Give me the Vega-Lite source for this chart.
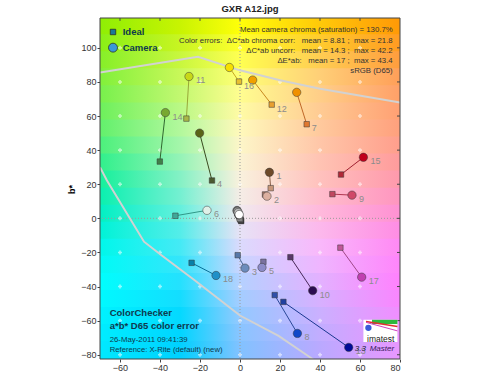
{
  "$schema": "https://vega.github.io/schema/vega-lite/v6.json",
  "width": 300,
  "height": 341,
  "autosize": "none",
  "padding": {"left": 100, "top": 18, "right": 100, "bottom": 16},
  "background": "white",
  "title": {"text": "GXR A12.jpg", "fontSize": 9.5, "fontWeight": "bold", "offset": 4, "color": "#222", "anchor": "middle", "font": "Liberation Sans"},
  "config": {
    "font": "Liberation Sans",
    "view": {"stroke": null},
    "axis": {"labelFont": "Liberation Sans", "labelFontSize": 9, "labelColor": "#333", "tickColor": "#444", "tickSize": 3, "domain": false, "grid": false, "labelPadding": 1, "titleFont": "Liberation Sans", "labelOverlap": false, "labelSeparation": -40},
    "axisY": {"labelOverlap": false, "labelSeparation": -40},
    "axisLeft": {"labelOverlap": false, "labelSeparation": -40}
  },
  "data": {"values": [{}]},
  "datasets": {
    "patches": [
      {"n": 1, "ia": 15.35, "ib": 17.7, "ca": 14.7, "cb": 27, "at": "c"},
      {"n": 2, "ia": 12.5, "ib": 14, "ca": 13.5, "cb": 13, "at": "c"},
      {"n": 3, "ia": -1.15, "ib": -21.6, "ca": 2.5, "cb": -29.2, "at": "c"},
      {"n": 4, "ia": -14, "ib": 22.2, "ca": -20.2, "cb": 50, "at": "i"},
      {"n": 5, "ia": 11.7, "ib": -25.5, "ca": 11, "cb": -28.8, "at": "c"},
      {"n": 6, "ia": -32.3, "ib": 1.5, "ca": -16.5, "cb": 4.7, "at": "c"},
      {"n": 7, "ia": 33.35, "ib": 55.2, "ca": 28.35, "cb": 73.9, "at": "i"},
      {"n": 8, "ia": 17.35, "ib": -45, "ca": 28.7, "cb": -67.5, "at": "c"},
      {"n": 9, "ia": 46.2, "ib": 14.2, "ca": 56, "cb": 13.6, "at": "c"},
      {"n": 10, "ia": 25.2, "ib": -22.8, "ca": 36.35, "cb": -42.4, "at": "c"},
      {"n": 11, "ia": -26.8, "ib": 58.5, "ca": -25.5, "cb": 83.2, "at": "c"},
      {"n": 12, "ia": 15.85, "ib": 66.7, "ca": 6.35, "cb": 81.1, "at": "i"},
      {"n": 13, "ia": 21.7, "ib": -49, "ca": 54.35, "cb": -75.7, "at": "c"},
      {"n": 14, "ia": -40.1, "ib": 33.3, "ca": -37.3, "cb": 62, "at": "c"},
      {"n": 15, "ia": 50.5, "ib": 25.7, "ca": 61.7, "cb": 35.8, "at": "c"},
      {"n": 16, "ia": -0.5, "ib": 80.2, "ca": -5.3, "cb": 88.5, "at": "i"},
      {"n": 17, "ia": 50.2, "ib": -17.2, "ca": 60.85, "cb": -34.5, "at": "c"},
      {"n": 18, "ia": -24.2, "ib": -26.1, "ca": -12, "cb": -33.5, "at": "c"},
      {"n": 24, "ia": 0.6, "ib": -1.6, "ca": -0.6, "cb": 2.0, "at": "n"},
      {"n": 23, "ia": 0.4, "ib": -1.1, "ca": -0.8, "cb": 2.8, "at": "n"},
      {"n": 22, "ia": 0.2, "ib": -0.6, "ca": -1.5, "cb": 4.6, "at": "n"},
      {"n": 21, "ia": 0, "ib": -0.3, "ca": -1.3, "cb": 4.2, "at": "n"},
      {"n": 20, "ia": -0.2, "ib": 0.2, "ca": -0.9, "cb": 3.4, "at": "n"},
      {"n": 19, "ia": -0.4, "ib": 1, "ca": -0.4, "cb": 2.2, "at": "n"}
    ],
    "gamut": [
      {"seg": "u", "o": 1, "a": -70, "b": 85.6},
      {"seg": "u", "o": 2, "a": -21, "b": 94.7},
      {"seg": "u", "o": 3, "a": 0, "b": 86.8},
      {"seg": "u", "o": 4, "a": 20, "b": 81},
      {"seg": "u", "o": 5, "a": 40, "b": 76},
      {"seg": "u", "o": 6, "a": 80, "b": 68},
      {"seg": "l", "o": 1, "a": -70, "b": 30},
      {"seg": "l", "o": 2, "a": -66.6, "b": 22.4},
      {"seg": "l", "o": 3, "a": -48, "b": -13.7},
      {"seg": "l", "o": 4, "a": -39.6, "b": -21.4},
      {"seg": "l", "o": 5, "a": -23, "b": -36},
      {"seg": "l", "o": 6, "a": 0, "b": -57},
      {"seg": "l", "o": 7, "a": 19.3, "b": -69},
      {"seg": "l", "o": 8, "a": 35, "b": -81.5},
      {"seg": "l", "o": 9, "a": 38, "b": -84}
    ],
    "grid": [
      {"a": -60, "bs": [-80, -60, -40, -20, 0, 20, 40, 60, 80, 100]},
      {"a": -40, "bs": [-80, -60, -40, -20, 0, 20, 40, 60, 80, 100]},
      {"a": -20, "bs": [-80, -60, -40, -20, 0, 20, 40, 60, 80, 100]},
      {"a": 0, "bs": [-80, -60, -40, -20, 0, 20, 40, 60, 80, 100]},
      {"a": 20, "bs": [-80, -60, -40, -20, 0, 20, 40, 60, 80, 100]},
      {"a": 40, "bs": [-80, -60, -40, -20, 0, 20, 40, 60, 80, 100]},
      {"a": 60, "bs": [-80, -60, -40, -20, 0, 20, 40, 60, 80, 100]}
    ]
  },
  "layer": [
    {
      "encoding": {
        "x": {"datum": -70, "type": "quantitative"},
        "x2": {"datum": 80}
      },
      "layer": [
        {"mark": {"type": "rect", "color": {"gradient": "linear", "x1": 0, "y1": 0, "x2": 1, "y2": 0, "stops": [{"offset": 0, "color": "#8fee05"}, {"offset": 0.2667, "color": "#c8f402"}, {"offset": 0.4667, "color": "#ffff09"}, {"offset": 0.7333, "color": "#ffc909"}, {"offset": 1, "color": "#ff9907"}]}}, "encoding": {"y": {"datum": 107.5, "type": "quantitative"}, "y2": {"datum": 117.5}}},
        {"mark": {"type": "rect", "color": {"gradient": "linear", "x1": 0, "y1": 0, "x2": 1, "y2": 0, "stops": [{"offset": 0, "color": "#8aef17"}, {"offset": 0.2667, "color": "#c8f522"}, {"offset": 0.4667, "color": "#ffff2e"}, {"offset": 0.7333, "color": "#ffcb2e"}, {"offset": 1, "color": "#ff9b22"}]}}, "encoding": {"y": {"datum": 97.5}, "y2": {"datum": 108}}},
        {"mark": {"type": "rect", "color": {"gradient": "linear", "x1": 0, "y1": 0, "x2": 1, "y2": 0, "stops": [{"offset": 0, "color": "#86ef29"}, {"offset": 0.2667, "color": "#c8f73e"}, {"offset": 0.4667, "color": "#ffff52"}, {"offset": 0.7333, "color": "#ffcd52"}, {"offset": 1, "color": "#ff9d3e"}]}}, "encoding": {"y": {"datum": 87.5}, "y2": {"datum": 98}}},
        {"mark": {"type": "rect", "color": {"gradient": "linear", "x1": 0, "y1": 0, "x2": 1, "y2": 0, "stops": [{"offset": 0, "color": "#81f03b"}, {"offset": 0.2667, "color": "#c8f859"}, {"offset": 0.4667, "color": "#ffff77"}, {"offset": 0.7333, "color": "#ffcf77"}, {"offset": 1, "color": "#ff9f59"}]}}, "encoding": {"y": {"datum": 77.5}, "y2": {"datum": 88}}},
        {"mark": {"type": "rect", "color": {"gradient": "linear", "x1": 0, "y1": 0, "x2": 1, "y2": 0, "stops": [{"offset": 0, "color": "#78f04c"}, {"offset": 0.2667, "color": "#c2f870"}, {"offset": 0.4667, "color": "#fffd90"}, {"offset": 0.7333, "color": "#ffce88"}, {"offset": 1, "color": "#ffa068"}]}}, "encoding": {"y": {"datum": 67.5}, "y2": {"datum": 78}}},
        {"mark": {"type": "rect", "color": {"gradient": "linear", "x1": 0, "y1": 0, "x2": 1, "y2": 0, "stops": [{"offset": 0, "color": "#6df05c"}, {"offset": 0.2667, "color": "#baf885"}, {"offset": 0.4667, "color": "#fffba5"}, {"offset": 0.7333, "color": "#ffcb93"}, {"offset": 1, "color": "#ffa073"}]}}, "encoding": {"y": {"datum": 57.5}, "y2": {"datum": 68}}},
        {"mark": {"type": "rect", "color": {"gradient": "linear", "x1": 0, "y1": 0, "x2": 1, "y2": 0, "stops": [{"offset": 0, "color": "#63f06c"}, {"offset": 0.2667, "color": "#b2f89c"}, {"offset": 0.4667, "color": "#fff9bb"}, {"offset": 0.7333, "color": "#ffc99d"}, {"offset": 1, "color": "#ffa07d"}]}}, "encoding": {"y": {"datum": 47.5}, "y2": {"datum": 58}}},
        {"mark": {"type": "rect", "color": {"gradient": "linear", "x1": 0, "y1": 0, "x2": 1, "y2": 0, "stops": [{"offset": 0, "color": "#4cf07c"}, {"offset": 0.2667, "color": "#a4f6aa"}, {"offset": 0.4667, "color": "#fdf6c8"}, {"offset": 0.7333, "color": "#ffc6a8"}, {"offset": 1, "color": "#ff9e8c"}]}}, "encoding": {"y": {"datum": 37.5}, "y2": {"datum": 48}}},
        {"mark": {"type": "rect", "color": {"gradient": "linear", "x1": 0, "y1": 0, "x2": 1, "y2": 0, "stops": [{"offset": 0, "color": "#31f08c"}, {"offset": 0.2667, "color": "#94f3b7"}, {"offset": 0.4667, "color": "#fbf3d3"}, {"offset": 0.7333, "color": "#ffc3b3"}, {"offset": 1, "color": "#ff9b9c"}]}}, "encoding": {"y": {"datum": 27.5}, "y2": {"datum": 38}}},
        {"mark": {"type": "rect", "color": {"gradient": "linear", "x1": 0, "y1": 0, "x2": 1, "y2": 0, "stops": [{"offset": 0, "color": "#17f09c"}, {"offset": 0.2667, "color": "#84f1c5"}, {"offset": 0.4667, "color": "#f9f1dd"}, {"offset": 0.7333, "color": "#ffc1bd"}, {"offset": 1, "color": "#ff99ac"}]}}, "encoding": {"y": {"datum": 17.5}, "y2": {"datum": 28}}},
        {"mark": {"type": "rect", "color": {"gradient": "linear", "x1": 0, "y1": 0, "x2": 1, "y2": 0, "stops": [{"offset": 0, "color": "#0af0af"}, {"offset": 0.2667, "color": "#74f0d1"}, {"offset": 0.4667, "color": "#f5ede6"}, {"offset": 0.7333, "color": "#ffbdcc"}, {"offset": 1, "color": "#ff95bf"}]}}, "encoding": {"y": {"datum": 7.5}, "y2": {"datum": 18}}},
        {"mark": {"type": "rect", "color": {"gradient": "linear", "x1": 0, "y1": 0, "x2": 1, "y2": 0, "stops": [{"offset": 0, "color": "#02f0c3"}, {"offset": 0.2667, "color": "#64f0dd"}, {"offset": 0.4667, "color": "#f1e9ee"}, {"offset": 0.7333, "color": "#ffb9dc"}, {"offset": 1, "color": "#ff91d3"}]}}, "encoding": {"y": {"datum": -2.5}, "y2": {"datum": 8}}},
        {"mark": {"type": "rect", "color": {"gradient": "linear", "x1": 0, "y1": 0, "x2": 1, "y2": 0, "stops": [{"offset": 0, "color": "#00f3d7"}, {"offset": 0.2667, "color": "#54ede9"}, {"offset": 0.4667, "color": "#e7e2f6"}, {"offset": 0.7333, "color": "#fcb8ec"}, {"offset": 1, "color": "#ff8de4"}]}}, "encoding": {"y": {"datum": -12.5}, "y2": {"datum": -2}}},
        {"mark": {"type": "rect", "color": {"gradient": "linear", "x1": 0, "y1": 0, "x2": 1, "y2": 0, "stops": [{"offset": 0, "color": "#00f7eb"}, {"offset": 0.2667, "color": "#44eaf5"}, {"offset": 0.4667, "color": "#dbdafd"}, {"offset": 0.7333, "color": "#f9b8fb"}, {"offset": 1, "color": "#ff89f4"}]}}, "encoding": {"y": {"datum": -22.5}, "y2": {"datum": -12}}},
        {"mark": {"type": "rect", "color": {"gradient": "linear", "x1": 0, "y1": 0, "x2": 1, "y2": 0, "stops": [{"offset": 0, "color": "#00fbf6"}, {"offset": 0.2667, "color": "#34e5fb"}, {"offset": 0.4667, "color": "#c9d5ff"}, {"offset": 0.7333, "color": "#efb5ff"}, {"offset": 1, "color": "#ff85fb"}]}}, "encoding": {"y": {"datum": -32.5}, "y2": {"datum": -22}}},
        {"mark": {"type": "rect", "color": {"gradient": "linear", "x1": 0, "y1": 0, "x2": 1, "y2": 0, "stops": [{"offset": 0, "color": "#00fefd"}, {"offset": 0.2667, "color": "#24e1fe"}, {"offset": 0.4667, "color": "#b5d1ff"}, {"offset": 0.7333, "color": "#e3b1ff"}, {"offset": 1, "color": "#ff81fe"}]}}, "encoding": {"y": {"datum": -42.5}, "y2": {"datum": -32}}},
        {"mark": {"type": "rect", "color": {"gradient": "linear", "x1": 0, "y1": 0, "x2": 1, "y2": 0, "stops": [{"offset": 0, "color": "#00f9ff"}, {"offset": 0.2667, "color": "#14ddff"}, {"offset": 0.4667, "color": "#a4cdff"}, {"offset": 0.7333, "color": "#d7b0ff"}, {"offset": 1, "color": "#f986ff"}]}}, "encoding": {"y": {"datum": -52.5}, "y2": {"datum": -42}}},
        {"mark": {"type": "rect", "color": {"gradient": "linear", "x1": 0, "y1": 0, "x2": 1, "y2": 0, "stops": [{"offset": 0, "color": "#00f2ff"}, {"offset": 0.2667, "color": "#04d9ff"}, {"offset": 0.4667, "color": "#94c9ff"}, {"offset": 0.7333, "color": "#cbb0ff"}, {"offset": 1, "color": "#f18eff"}]}}, "encoding": {"y": {"datum": -62.5}, "y2": {"datum": -52}}},
        {"mark": {"type": "rect", "color": {"gradient": "linear", "x1": 0, "y1": 0, "x2": 1, "y2": 0, "stops": [{"offset": 0, "color": "#00edff"}, {"offset": 0.2667, "color": "#00d5ff"}, {"offset": 0.4667, "color": "#8ac5ff"}, {"offset": 0.7333, "color": "#c2adff"}, {"offset": 1, "color": "#ed93ff"}]}}, "encoding": {"y": {"datum": -72.5}, "y2": {"datum": -62}}},
        {"mark": {"type": "rect", "color": {"gradient": "linear", "x1": 0, "y1": 0, "x2": 1, "y2": 0, "stops": [{"offset": 0, "color": "#00e9ff"}, {"offset": 0.2667, "color": "#00d1ff"}, {"offset": 0.4667, "color": "#82c2ff"}, {"offset": 0.7333, "color": "#baa9ff"}, {"offset": 1, "color": "#e997ff"}]}}, "encoding": {"y": {"datum": -82.5}, "y2": {"datum": -72}}}
      ]
    },
    {"mark": {"type": "rule", "color": "#9a9a9a", "strokeDash": [1, 2], "strokeWidth": 1}, "encoding": {"x": {"datum": 0}}},
    {"mark": {"type": "rule", "color": "#9a9a9a", "strokeDash": [1, 2], "strokeWidth": 1}, "encoding": {"y": {"datum": 0}}},
    {
      "data": {"name": "grid"},
      "transform": [{"flatten": ["bs"], "as": ["b"]}],
      "mark": {"type": "point", "shape": "cross", "filled": true, "size": 16, "color": "white", "opacity": 0.55},
      "encoding": {"x": {"field": "a", "type": "quantitative"}, "y": {"field": "b", "type": "quantitative"}}
    },
    {
      "data": {"name": "grid"},
      "mark": {"type": "rule", "color": "#444", "strokeWidth": 1},
      "encoding": {"x": {"field": "a", "type": "quantitative"}, "y": {"datum": 117.5}, "y2": {"datum": 115.8}}
    },
    {
      "data": {"name": "grid"},
      "transform": [{"filter": "datum.a === -60"}, {"flatten": ["bs"], "as": ["b"]}],
      "mark": {"type": "rule", "color": "#444", "strokeWidth": 1},
      "encoding": {"y": {"field": "b", "type": "quantitative"}, "x": {"datum": 80}, "x2": {"datum": 78.5}}
    },
    {
      "data": {"name": "gamut"},
      "mark": {"type": "line", "color": "#d2d2d2", "strokeWidth": 2, "clip": true},
      "encoding": {"x": {"field": "a", "type": "quantitative"}, "y": {"field": "b", "type": "quantitative"}, "detail": {"field": "seg"}, "order": {"field": "o", "type": "quantitative"}}
    },
    {
      "data": {"name": "patches"},
      "mark": {"type": "rule", "strokeWidth": 1},
      "encoding": {
        "x": {"field": "ia", "type": "quantitative"}, "y": {"field": "ib", "type": "quantitative"},
        "x2": {"field": "ca"}, "y2": {"field": "cb"},
        "stroke": {"field": "n", "type": "nominal", "legend": null, "scale": {"domain": [1, 2, 3, 4, 5, 6, 7, 8, 9, 10, 11, 12, 13, 14, 15, 16, 17, 18, 24, 23, 22, 21, 20, 19], "range": ["#8a6048", "#a07060", "#4a6898", "#3a4a20", "#6a6290", "#309888", "#c06828", "#2a4898", "#b03850", "#482858", "#98a838", "#c88820", "#1a3890", "#306830", "#a02030", "#c8a820", "#a04888", "#087098", "#222222", "#505050", "#787878", "#a0a0a0", "#c8c8c8", "#f0f0f0"]}}
      }
    },
    {
      "data": {"name": "patches"},
      "mark": {"type": "point", "shape": "square", "filled": true, "size": 30, "stroke": "#333", "strokeWidth": 0.7, "strokeOpacity": 0.7, "opacity": 1},
      "encoding": {
        "x": {"field": "ia", "type": "quantitative"}, "y": {"field": "ib", "type": "quantitative"},
        "fill": {"field": "n", "type": "nominal", "legend": null, "scale": {"domain": [1, 2, 3, 4, 5, 6, 7, 8, 9, 10, 11, 12, 13, 14, 15, 16, 17, 18, 24, 23, 22, 21, 20, 19], "range": ["#c8987a", "#a07060", "#5878a8", "#4a5a30", "#7a72a0", "#40a898", "#e07830", "#3050a8", "#c04860", "#583868", "#a8b848", "#e8a030", "#2040a0", "#408048", "#b02838", "#e8c030", "#c05898", "#0880a8", "#222222", "#505050", "#787878", "#a0a0a0", "#c8c8c8", "#f0f0f0"]}}
      }
    },
    {
      "data": {"name": "patches"},
      "mark": {"type": "point", "shape": "circle", "filled": true, "size": 70, "stroke": "#333", "strokeWidth": 0.8, "strokeOpacity": 0.6, "opacity": 1},
      "encoding": {
        "x": {"field": "ca", "type": "quantitative", "scale": {"domain": [-70, 80], "nice": false, "zero": false}, "axis": {"values": [-60, -40, -20, 0, 20, 40, 60, 80], "title": null, "format": "d", "labelOverlap": false}},
        "y": {"field": "cb", "type": "quantitative", "scale": {"domain": [-82.5, 117.5], "nice": false, "zero": false}, "axis": {"values": [-80, -60, -40, -20, 0, 20, 40, 60, 80, 100], "tickCount": 10, "labelOverlap": false, "labelSeparation": -40, "labelBound": false, "title": "b*", "titleX": -28.5, "titleY": 171, "titleFontSize": 9, "titleFontWeight": "bold", "titleColor": "#000", "titleAngle": -90, "titleBaseline": "middle", "titleAlign": "center"}},
        "color": {"field": "n", "type": "nominal", "legend": null, "scale": {"domain": [1, 2, 3, 4, 5, 6, 7, 8, 9, 10, 11, 12, 13, 14, 15, 16, 17, 18, 24, 23, 22, 21, 20, 19], "range": ["#6e4a2a", "#dcb0a0", "#6c8cbc", "#5a6418", "#8c8cc8", "#e0f0e8", "#f09000", "#1048c8", "#d04868", "#2c0c50", "#c8d818", "#f0a000", "#000c98", "#78a830", "#c0001c", "#f8e000", "#c040b0", "#2090c8", "#181818", "#404040", "#707070", "#909090", "#b8b8b8", "#ffffff"]}}
      }
    },
    {
      "data": {"name": "patches"},
      "transform": [{"filter": "datum.at === 'c'"}],
      "mark": {"type": "text", "align": "left", "baseline": "middle", "dx": 7, "dy": 4, "fontSize": 9, "color": "#8c8c8c"},
      "encoding": {"x": {"field": "ca", "type": "quantitative"}, "y": {"field": "cb", "type": "quantitative"}, "text": {"field": "n", "type": "nominal"}}
    },
    {
      "data": {"name": "patches"},
      "transform": [{"filter": "datum.at === 'i'"}],
      "mark": {"type": "text", "align": "left", "baseline": "middle", "dx": 5, "dy": 4, "fontSize": 9, "color": "#8c8c8c"},
      "encoding": {"x": {"field": "ia", "type": "quantitative"}, "y": {"field": "ib", "type": "quantitative"}, "text": {"field": "n", "type": "nominal"}}
    },
    {"mark": {"type": "point", "shape": "square", "filled": true, "size": 30, "color": "#1a7898", "stroke": "#222", "strokeWidth": 0.7, "opacity": 1}, "encoding": {"x": {"datum": -63.5}, "y": {"datum": 109.3}}},
    {"mark": {"type": "point", "shape": "circle", "filled": true, "size": 80, "color": "#3a98d8", "stroke": "#222", "strokeWidth": 0.7, "opacity": 1}, "encoding": {"x": {"datum": -63.5}, "y": {"datum": 100.1}}},
    {"mark": {"type": "text", "text": "Ideal", "align": "left", "baseline": "middle", "fontSize": 9.5, "fontWeight": "bold", "color": "#0c3a50"}, "encoding": {"x": {"datum": -58.65}, "y": {"datum": 109.3}}},
    {"mark": {"type": "text", "text": "Camera", "align": "left", "baseline": "middle", "fontSize": 9.5, "fontWeight": "bold", "color": "#0c3a50"}, "encoding": {"x": {"datum": -58.65}, "y": {"datum": 100.1}}},
    {"mark": {"type": "text", "align": "right", "baseline": "top", "fontSize": 7.8, "lineHeight": 10.2, "color": "#333", "text": ["Mean camera chroma (saturation) = 130.7%", "Color errors:\u00a0 ΔC*ab chroma corr:\u00a0\u00a0 mean = 8.81 ;\u00a0 max = 21.8", "ΔC*ab uncorr:\u00a0\u00a0 mean = 14.3 ;\u00a0 max = 42.2", "ΔE*ab:\u00a0\u00a0 mean = 17 ;\u00a0 max = 43.4", "sRGB (D65)"]}, "encoding": {"x": {"datum": 76.35}, "y": {"datum": 112.6}}},
    {"mark": {"type": "text", "text": "ColorChecker", "align": "left", "baseline": "middle", "fontSize": 9.5, "fontWeight": "bold", "color": "#0f3a4e"}, "encoding": {"x": {"datum": -65.15}, "y": {"datum": -55.5}}},
    {"mark": {"type": "text", "text": "a*b* D65 color error", "align": "left", "baseline": "middle", "fontSize": 9.5, "fontWeight": "bold", "color": "#0f3a4e"}, "encoding": {"x": {"datum": -65.15}, "y": {"datum": -63.3}}},
    {"mark": {"type": "text", "text": "26-May-2011 09:41:39", "align": "left", "baseline": "middle", "fontSize": 7.8, "color": "#0f3a4e"}, "encoding": {"x": {"datum": -65.15}, "y": {"datum": -71.2}}},
    {"mark": {"type": "text", "text": "Reference: X-Rite (default) (new)", "align": "left", "baseline": "middle", "fontSize": 7.7, "color": "#0f3a4e"}, "encoding": {"x": {"datum": -65.15}, "y": {"datum": -77.1}}},
    {"mark": {"type": "rect", "color": "white"}, "encoding": {"x": {"datum": 61.7}, "x2": {"datum": 78.7}, "y": {"datum": -72.6}, "y2": {"datum": -59.5}}},
    {"mark": {"type": "rect", "color": "#2db83d"}, "encoding": {"x": {"datum": 66}, "x2": {"datum": 78.7}, "y": {"datum": -62}, "y2": {"datum": -59.5}}},
    {"mark": {"type": "rule", "color": "#e03030", "strokeWidth": 1.5}, "encoding": {"x": {"datum": 63}, "y": {"datum": -60.5}, "x2": {"datum": 78.7}, "y2": {"datum": -63.5}}},
    {"mark": {"type": "rule", "color": "#d040c0", "strokeWidth": 1}, "encoding": {"x": {"datum": 63}, "y": {"datum": -61}, "x2": {"datum": 78.7}, "y2": {"datum": -66}}},
    {"mark": {"type": "point", "shape": "circle", "filled": true, "size": 40, "color": "#3a5ad8", "opacity": 1}, "encoding": {"x": {"datum": 64.2}, "y": {"datum": -64.2}}},
    {"mark": {"type": "text", "text": "imatest", "align": "center", "baseline": "middle", "fontSize": 8.5, "color": "#222"}, "encoding": {"x": {"datum": 70.35}, "y": {"datum": -70.6}}},
    {"mark": {"type": "text", "text": "3.3", "align": "left", "baseline": "middle", "fontSize": 8, "fontStyle": "italic", "color": "#1a1a40"}, "encoding": {"x": {"datum": 57.4}, "y": {"datum": -76.7}}},
    {"mark": {"type": "text", "text": "Master", "align": "left", "baseline": "middle", "fontSize": 8, "fontStyle": "italic", "color": "#3a2060"}, "encoding": {"x": {"datum": 64.85}, "y": {"datum": -76.7}}},
    {"mark": {"type": "rect", "filled": false, "color": "#444", "strokeWidth": 1}, "encoding": {"x": {"datum": -70}, "x2": {"datum": 80}, "y": {"datum": -82.5}, "y2": {"datum": 117.5}}}
  ]
}
